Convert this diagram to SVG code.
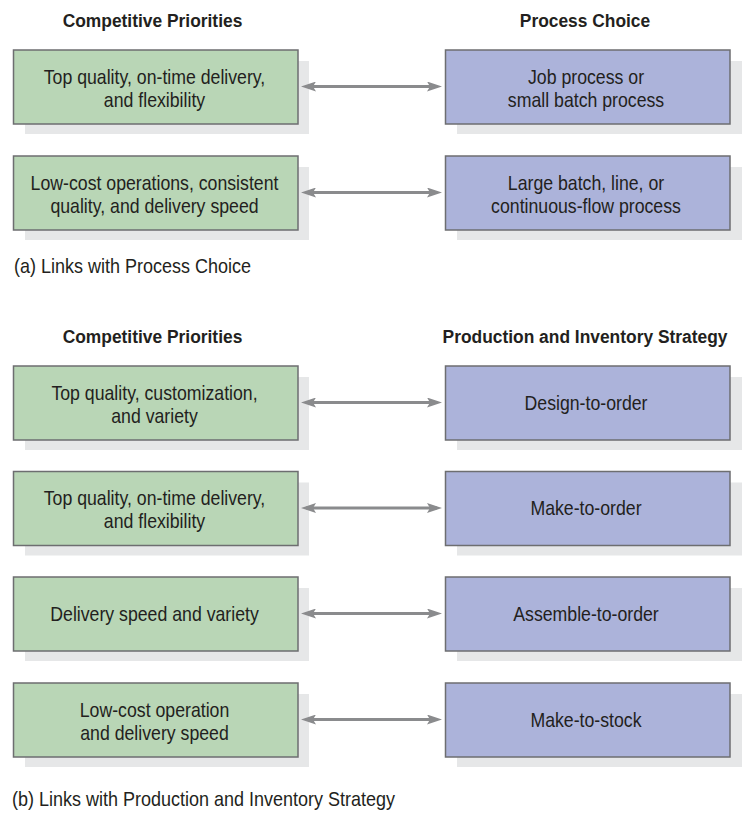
<svg xmlns="http://www.w3.org/2000/svg" width="742" height="813" viewBox="0 0 742 813">
<defs>
<style>
.sh{fill:#e6e7e8}
.g{fill:#b9d6b6;stroke:#6d6e70;stroke-width:1.5}
.b{fill:#acb3da;stroke:#6d6e70;stroke-width:1.5}
.t{font-family:"Liberation Sans",Arial,sans-serif;font-size:20px;fill:#231f20;text-anchor:middle}
.h{font-weight:bold;font-size:19px}
.cap{text-anchor:start}
.ar{stroke:#8a8b8d;stroke-width:3;fill:none;marker-start:url(#ah);marker-end:url(#ah)}
</style>
<marker id="ah" markerUnits="userSpaceOnUse" markerWidth="15" markerHeight="10" refX="10" refY="5" orient="auto-start-reverse" viewBox="0 0 15 10">
<path d="M0,0 L15,5 L0,10 L3,5 z" fill="#8a8b8d"/>
</marker>
</defs>
<rect width="742" height="813" fill="#ffffff"/>

<g id="headers">
<text class="t h" transform="translate(152.5 0) scale(0.915 1)"><tspan x="0" y="27">Competitive Priorities</tspan></text>
<text class="t h" transform="translate(585 0) scale(0.915 1)"><tspan x="0" y="27">Process Choice</tspan></text>
<text class="t h" transform="translate(152.5 0) scale(0.915 1)"><tspan x="0" y="343">Competitive Priorities</tspan></text>
<text class="t h" transform="translate(585 0) scale(0.915 1)"><tspan x="0" y="343">Production and Inventory Strategy</tspan></text>
</g>

<g id="a-g1">
<rect class="sh" x="25" y="61" width="284" height="73"/>
<rect class="g" x="13.5" y="50" width="284.5" height="74"/>
<text class="t" transform="translate(154.5 0) scale(0.885 1)"><tspan x="0" y="84">Top quality, on-time delivery,</tspan><tspan x="0" y="107">and flexibility</tspan></text>
</g>
<g id="a-b1">
<rect class="sh" x="457" y="61" width="285" height="73"/>
<rect class="b" x="445.5" y="50" width="284.5" height="74"/>
<text class="t" transform="translate(586 0) scale(0.885 1)"><tspan x="0" y="84">Job process or</tspan><tspan x="0" y="107">small batch process</tspan></text>
</g>
<g id="a-g2">
<rect class="sh" x="25" y="167" width="284" height="73"/>
<rect class="g" x="13.5" y="156" width="284.5" height="74"/>
<text class="t" transform="translate(154.5 0) scale(0.885 1)"><tspan x="0" y="190">Low-cost operations, consistent</tspan><tspan x="0" y="213">quality, and delivery speed</tspan></text>
</g>
<g id="a-b2">
<rect class="sh" x="457" y="167" width="285" height="73"/>
<rect class="b" x="445.5" y="156" width="284.5" height="74"/>
<text class="t" transform="translate(586 0) scale(0.885 1)"><tspan x="0" y="190">Large batch, line, or</tspan><tspan x="0" y="213">continuous-flow process</tspan></text>
</g>

<g id="b-g1">
<rect class="sh" x="25" y="377" width="284" height="73"/>
<rect class="g" x="13.5" y="366" width="284.5" height="74"/>
<text class="t" transform="translate(154.5 0) scale(0.885 1)"><tspan x="0" y="400">Top quality, customization,</tspan><tspan x="0" y="423">and variety</tspan></text>
</g>
<g id="b-b1">
<rect class="sh" x="457" y="377" width="285" height="73"/>
<rect class="b" x="445.5" y="366" width="284.5" height="74"/>
<text class="t" transform="translate(586 0) scale(0.885 1)"><tspan x="0" y="410">Design-to-order</tspan></text>
</g>
<g id="b-g2">
<rect class="sh" x="25" y="482.5" width="284" height="73"/>
<rect class="g" x="13.5" y="471.5" width="284.5" height="74"/>
<text class="t" transform="translate(154.5 0) scale(0.885 1)"><tspan x="0" y="505.5">Top quality, on-time delivery,</tspan><tspan x="0" y="528.5">and flexibility</tspan></text>
</g>
<g id="b-b2">
<rect class="sh" x="457" y="482.5" width="285" height="73"/>
<rect class="b" x="445.5" y="471.5" width="284.5" height="74"/>
<text class="t" transform="translate(586 0) scale(0.885 1)"><tspan x="0" y="515.5">Make-to-order</tspan></text>
</g>
<g id="b-g3">
<rect class="sh" x="25" y="588" width="284" height="73"/>
<rect class="g" x="13.5" y="577" width="284.5" height="74"/>
<text class="t" transform="translate(154.5 0) scale(0.885 1)"><tspan x="0" y="621.5">Delivery speed and variety</tspan></text>
</g>
<g id="b-b3">
<rect class="sh" x="457" y="588" width="285" height="73"/>
<rect class="b" x="445.5" y="577" width="284.5" height="74"/>
<text class="t" transform="translate(586 0) scale(0.885 1)"><tspan x="0" y="621.5">Assemble-to-order</tspan></text>
</g>
<g id="b-g4">
<rect class="sh" x="25" y="694" width="284" height="73"/>
<rect class="g" x="13.5" y="683" width="284.5" height="74"/>
<text class="t" transform="translate(154.5 0) scale(0.885 1)"><tspan x="0" y="717">Low-cost operation</tspan><tspan x="0" y="740">and delivery speed</tspan></text>
</g>
<g id="b-b4">
<rect class="sh" x="457" y="694" width="285" height="73"/>
<rect class="b" x="445.5" y="683" width="284.5" height="74"/>
<text class="t" transform="translate(586 0) scale(0.885 1)"><tspan x="0" y="727">Make-to-stock</tspan></text>
</g>

<g id="connectors">
<line class="ar" x1="306" y1="86.5" x2="437" y2="86.5"/>
<line class="ar" x1="306" y1="192.5" x2="437" y2="192.5"/>
<line class="ar" x1="306" y1="402.5" x2="437" y2="402.5"/>
<line class="ar" x1="306" y1="508" x2="437" y2="508"/>
<line class="ar" x1="306" y1="613.5" x2="437" y2="613.5"/>
<line class="ar" x1="306" y1="719.5" x2="437" y2="719.5"/>
</g>

<g id="captions">
<text class="t cap" transform="translate(14 0) scale(0.9 1)"><tspan x="0" y="273">(a) Links with Process Choice</tspan></text>
<text class="t cap" transform="translate(12 0) scale(0.9 1)"><tspan x="0" y="806">(b) Links with Production and Inventory Strategy</tspan></text>
</g>
</svg>
